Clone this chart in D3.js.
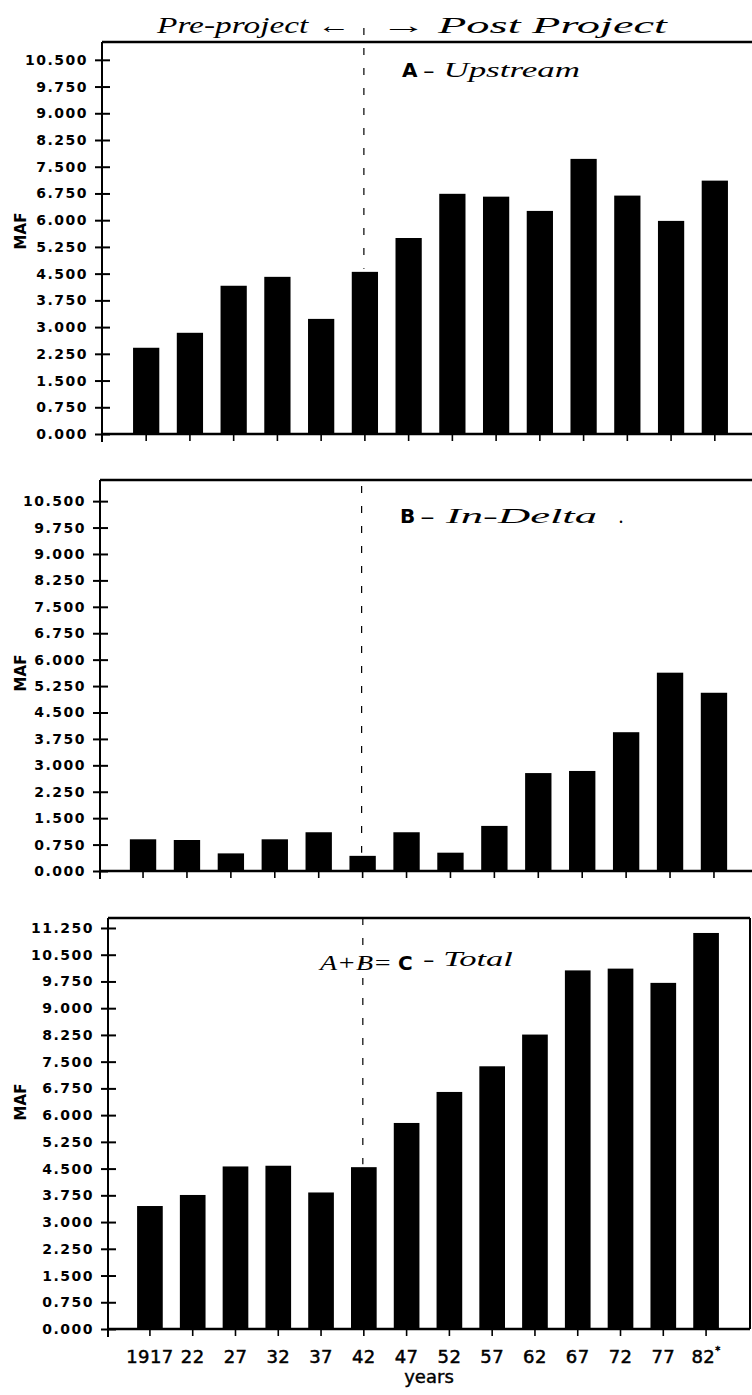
<!DOCTYPE html>
<html>
<head>
<meta charset="utf-8">
<script src="https://cdn.jsdelivr.net/npm/d3@7"></script>
<style>
body{margin:0;background:#fff}
</style>
</head>
<body>
<svg id="chart" width="752" height="1395"></svg>
<script>
// data (million acre-feet)
var years = ["1917","22","27","32","37","42","47","52","57","62","67","72","77","82"];
var upstream = [2.42,2.84,4.16,4.41,3.23,4.55,5.50,6.74,6.66,6.26,7.72,6.69,5.98,7.11];
var inDelta  = [0.90,0.88,0.50,0.90,1.10,0.43,1.10,0.52,1.28,2.78,2.84,3.94,5.63,5.06];
var total    = [3.45,3.76,4.56,4.58,3.83,4.54,5.78,6.65,7.37,8.26,10.06,10.11,9.71,11.11];
var ticksAB = [0,0.75,1.5,2.25,3,3.75,4.5,5.25,6,6.75,7.5,8.25,9,9.75,10.5];
var ticksC  = [0,0.75,1.5,2.25,3,3.75,4.5,5.25,6,6.75,7.5,8.25,9,9.75,10.5,11.25];
var splitYear = "42";

var svg = d3.select("#chart");
var fmt = d3.format(".3f");

// panel layout
var panels = [
  {vals:upstream, ticks:ticksAB, x0:102, x1:759, top:42, base:434, max:11.0, pad:0.71, maf:231, right:false, dashTop:28},
  {vals:inDelta,  ticks:ticksAB, x0:100, x1:757, top:480, base:871, max:11.1, pad:0.68, maf:673, right:false, dashTop:486},
  {vals:total,    ticks:ticksC,  x0:108, x1:748, top:918, base:1329, max:11.53, pad:0.68, maf:1102, right:true, dashTop:918}
];

panels.forEach(function(p, pi){
  var g = svg.append("g");
  var x = d3.scaleBand().domain(years).range([p.x0, p.x1]).paddingInner(0.4).paddingOuter(p.pad);
  var y = d3.scaleLinear().domain([0, p.max]).range([p.base, p.top]);

  // bars
  g.selectAll("rect.bar").data(p.vals).enter().append("rect")
    .attr("class","bar")
    .attr("x", function(d,i){return x(years[i]);})
    .attr("width", x.bandwidth())
    .attr("y", function(d){return y(d);})
    .attr("height", function(d){return y(0)-y(d);})
    .attr("fill","#000");

  // dashed pre/post line
  var si = years.indexOf(splitYear);
  var xs = x(splitYear) + x.bandwidth()/2 - 1;
  g.append("line")
    .attr("x1", xs).attr("x2", xs)
    .attr("y1", p.dashTop).attr("y2", y(p.vals[si]) - 3)
    .attr("stroke","#000").attr("stroke-width",1.2)
    .attr("stroke-dasharray","7,13");

  // frame: top border, left axis, x axis
  var xr = p.right ? 750 : 752;
  g.append("line").attr("x1",p.x0).attr("x2",xr).attr("y1",p.top).attr("y2",p.top)
    .attr("stroke","#000").attr("stroke-width",2.6);
  if (p.right) {
    g.append("line").attr("x1",750).attr("x2",750).attr("y1",p.top).attr("y2",p.base)
      .attr("stroke","#000").attr("stroke-width",2);
  }

  var yAxis = d3.axisLeft(y).tickValues(p.ticks).tickFormat(fmt).tickSizeInner(7).tickSizeOuter(0).tickPadding(7);
  var ya = g.append("g").attr("transform","translate("+p.x0+",0)").call(yAxis);
  ya.select(".domain").attr("d","M0,"+p.top+"V"+(p.base+8)).attr("stroke","#000").attr("stroke-width",2);
  ya.selectAll(".tick line").attr("x1",8).attr("x2",-7).attr("stroke","#000").attr("stroke-width",2);
  ya.selectAll(".tick text")
    .attr("font-family","DejaVu Sans, sans-serif").attr("font-weight","bold")
    .attr("font-size",14).attr("letter-spacing",1.5).attr("fill","#000");

  var xAxis = d3.axisBottom(x).tickSizeInner(7).tickSizeOuter(0).tickPadding(10)
    .tickFormat(pi === 2 ? null : function(){return "";});
  var xa = g.append("g").attr("transform","translate(0,"+p.base+")").call(xAxis);
  xa.select(".domain").attr("d","M"+p.x0+",0H"+xr).attr("stroke","#000").attr("stroke-width",2.4);
  xa.selectAll(".tick line").attr("stroke","#000").attr("stroke-width",1.6);

  if (pi === 2) {
    xa.selectAll(".tick text")
      .attr("font-family","DejaVu Sans, sans-serif")
      .attr("font-size",18).attr("letter-spacing",0.4)
      .attr("fill","#000").attr("stroke","#000").attr("stroke-width",0.5)
      .attr("dy","0.95em");
    // asterisk on 82
    xa.selectAll(".tick text").filter(function(d){return d === "82";})
      .append("tspan").attr("font-size",10).attr("dy","-0.9em").text("*");
    g.append("text")
      .attr("x",(p.x0+750)/2).attr("y",1383)
      .attr("text-anchor","middle")
      .attr("font-family","DejaVu Sans, sans-serif").attr("font-size",18)
      .attr("stroke","#000").attr("stroke-width",0.4)
      .text("years");
  }

  // MAF label
  g.append("text")
    .attr("transform","translate(26,"+p.maf+") rotate(-90)")
    .attr("text-anchor","middle")
    .attr("font-family","DejaVu Sans, sans-serif").attr("font-weight","bold").attr("font-size",15)
    .text("MAF");
});

// handwritten notes
var hand = function(txt, x, y, w, size){
  return svg.append("text").attr("x",x).attr("y",y)
    .attr("font-family","Liberation Serif, serif").attr("font-style","italic")
    .attr("font-size",size).attr("textLength",w).attr("lengthAdjust","spacingAndGlyphs")
    .text(txt);
};
var print = function(txt, x, y){
  return svg.append("text").attr("x",x).attr("y",y)
    .attr("font-family","DejaVu Sans, sans-serif").attr("font-weight","bold")
    .attr("font-size",20).text(txt);
};

hand("Pre-project \u2190", 157, 33, 193, 23);
hand("\u2192 Post Project", 380, 33, 287, 23);

print("A", 402, 77);
hand("- Upstream", 423, 77, 157, 22);

print("B", 400, 523);
hand("- In-Delta", 420, 523, 177, 22);
hand(".", 619, 523, 5, 22);

hand("A+B=", 320, 970, 72, 21);
print("C", 398, 970);
hand("- Total", 423, 966, 90, 22);
</script>
</body>
</html>
